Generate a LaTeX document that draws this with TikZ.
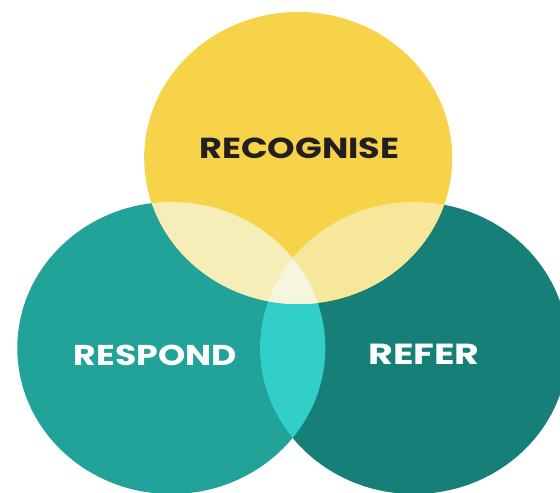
\documentclass[tikz,border=0pt]{standalone}
\usepackage{fontspec}
\usetikzlibrary{shapes.geometric}
\newfontfamily\labelfont{Poppins}

\definecolor{sun}{HTML}{F6D349}
\definecolor{tealL}{HTML}{21A39A}
\definecolor{tealR}{HTML}{167F77}
\definecolor{aqua}{HTML}{32CFC8}
\definecolor{paleL}{HTML}{F6EEB8}
\definecolor{paleR}{HTML}{F7E79B}
\definecolor{paleC}{HTML}{F6F6DE}
\definecolor{ink}{HTML}{231F20}

% fit a caps label into a given width and cap height
\newcommand\capsbox[3]{\resizebox{#1}{#2}{\labelfont\bfseries #3}}

\tikzset{
  ring/.style={ellipse, draw=none, inner sep=0pt,
    minimum width=308pt, minimum height=292pt},
  tag/.style={inner sep=0pt, anchor=center},
  oval/.style={x radius=154, y radius=146}
}

\begin{document}
\begin{tikzpicture}[x=1pt,y=-1pt]
\useasboundingbox (0,0) rectangle (560,493);
\clip (0,0) rectangle (560,493);

% the three sets
\node[ring, fill=tealL] (respondset) at (171.3,348) {};
\node[ring, fill=tealR] (referset)   at (414,348) {};

% overlap of the two lower sets
\begin{scope}
  \clip (respondset.center) ellipse [oval];
  \fill[aqua] (referset.center) ellipse [oval];
\end{scope}

\node[ring, fill=sun] (recogniseset) at (298.2,158) {};

% overlaps with the upper set
\begin{scope}
  \clip (recogniseset.center) ellipse [oval];
  \fill[paleL] (respondset.center) ellipse [oval];
  \fill[paleR] (referset.center) ellipse [oval];
  \clip (respondset.center) ellipse [oval];
  \fill[paleC] (referset.center) ellipse [oval];
\end{scope}

% labels
\node[tag, text=ink]   (recognise) at (299.3,148) {\capsbox{200pt}{20.6pt}{RECOGNISE}};
\node[tag, text=white] (respond)   at (155.3,355) {\capsbox{163pt}{20.4pt}{RESPOND}};
\node[tag, text=white] (refer)     at (424,354)   {\capsbox{111.5pt}{20.4pt}{REFER}};
\end{tikzpicture}
\end{document}
